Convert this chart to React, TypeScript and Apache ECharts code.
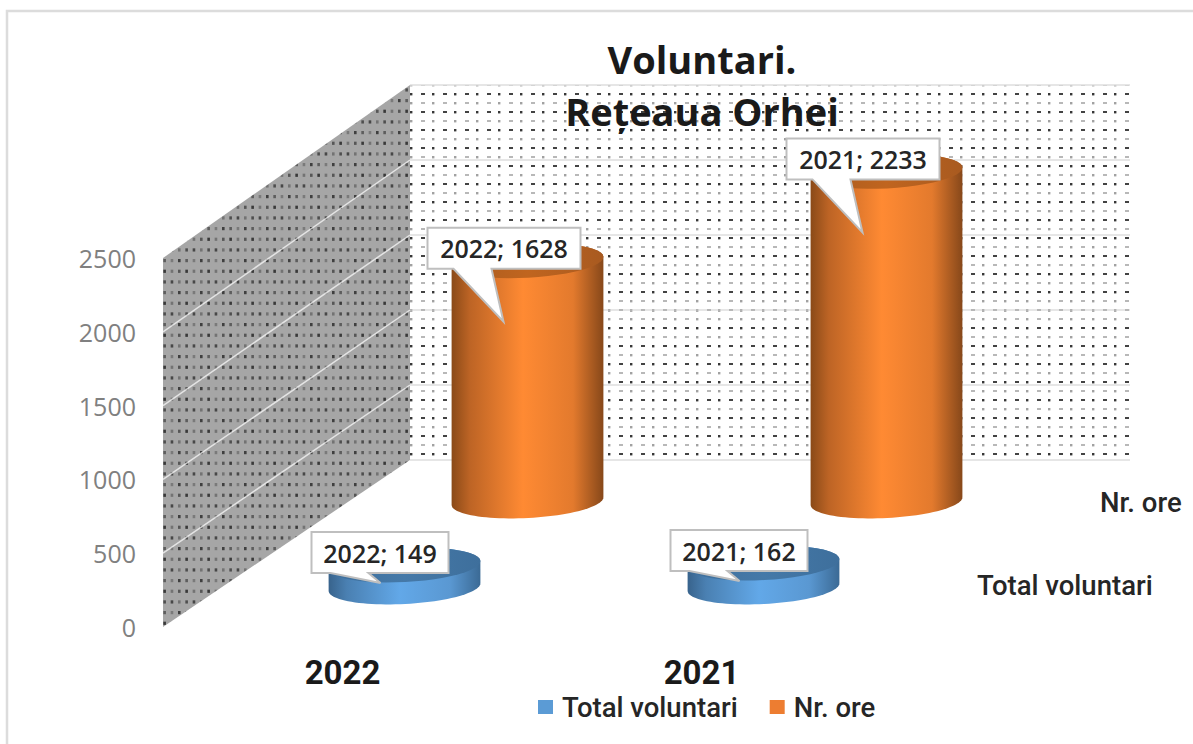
import React, { useEffect, useRef } from "react";
import * as echarts from "echarts";

const categories = ["2022", "2021"];
const totalVoluntari = [149, 162];
const nrOre = [1628, 2233];
const yTicks = [0, 500, 1000, 1500, 2000, 2500];
const FONT = "'Open Sans', sans-serif";
const FONT2 = "Roboto, sans-serif";

function makeTile(w: number, h: number, bg: string | null, draw: (c: CanvasRenderingContext2D) => void) {
  const cv = document.createElement("canvas");
  cv.width = w;
  cv.height = h;
  const c = cv.getContext("2d")!;
  if (bg) {
    c.fillStyle = bg;
    c.fillRect(0, 0, w, h);
  }
  (c as any).filter = "blur(0.6px)";
  draw(c);
  return { image: cv.toDataURL(), repeat: "repeat", imageWidth: w, imageHeight: h };
}

function backPattern() {
  return makeTile(22, 18, "#ffffff", (c) => {
    c.fillStyle = "rgba(20,20,20,0.8)";
    c.fillRect(3, 3, 4, 2);
    c.fillStyle = "rgba(20,20,20,0.85)";
    c.fillRect(14, 3, 2.4, 2.4);
    c.fillStyle = "rgba(20,20,20,0.3)";
    c.fillRect(3, 12, 4, 2);
    c.fillStyle = "rgba(20,20,20,0.4)";
    c.fillRect(14, 12, 2.4, 2.4);
  });
}

function sidePattern() {
  return makeTile(22, 32, "#a6a6a6", (c) => {
    const alphas = [0.7, 0.5, 0.3, 0.55, 0.75, 0.35, 0.35, 0.6, 0.65];
    for (let r = 0; r < 3; r++) {
      for (let k = 0; k < 3; k++) {
        c.fillStyle = `rgba(20,20,20,${alphas[r * 3 + k]})`;
        c.fillRect(2 + k * 7.33, 3 + r * 10.67, 2.6, 3.2);
      }
    }
  });
}

function ellipsePts(cx: number, cy: number, a: number, b: number, from: number, to: number) {
  const tilt = (-3 * Math.PI) / 180;
  const pts: number[][] = [];
  const steps = 48;
  for (let i = 0; i <= steps; i++) {
    const t = from + ((to - from) * i) / steps;
    const ex = a * Math.cos(t);
    const ey = b * Math.sin(t);
    pts.push([cx + ex * Math.cos(tilt) - ey * Math.sin(tilt), cy + ex * Math.sin(tilt) + ey * Math.cos(tilt)]);
  }
  return pts;
}

function hGrad(stops: [number, string][]) {
  return {
    type: "linear",
    x: 0,
    y: 0,
    x2: 1,
    y2: 0,
    colorStops: stops.map(([offset, color]) => ({ offset, color })),
  };
}

function cylinderSeries(
  name: string,
  values: number[],
  color: string,
  dx: number,
  dy: number,
  tipY: number,
  z: number,
  side: [number, string][],
  top: [number, string][]
) {
  return {
    type: "custom",
    name,
    z,
    clip: false,
    itemStyle: { color },
    encode: { x: 0, y: 1 },
    data: values.map((v, i) => [i, v]),
    renderItem: (_p: any, api: any) => {
      const i = api.value(0);
      const v = api.value(1);
      const base = api.coord([i, 0]);
      const head = api.coord([i, v]);
      const cx = base[0] + dx;
      const yb = base[1] + dy;
      const yt = head[1] + dy;
      const a = 76;
      const b = 17;
      const body = [
        ...ellipsePts(cx, yb, a, b, Math.PI, 0),
        ...ellipsePts(cx, yt, a, b, 0, -Math.PI),
      ];
      const label = `${categories[i]}; ${v}`;
      const w = String(v).length >= 4 ? 153 : 137;
      const left = cx + (w === 153 ? -100 : -93);
      const rectTop = yt - 33;
      const rectH = 41;
      const callout = [
        [left, rectTop],
        [left + w, rectTop],
        [left + w, rectTop + rectH],
        [cx - 36, rectTop + rectH],
        [cx - 24, yt + tipY],
        [cx - 74, rectTop + rectH],
        [left, rectTop + rectH],
      ];
      return {
        type: "group",
        children: [
          { type: "polygon", shape: { points: body }, style: { fill: hGrad(side) } },
          { type: "polygon", shape: { points: ellipsePts(cx, yt, a, b, 0, Math.PI * 2) }, style: { fill: hGrad(top) } },
          { type: "polygon", shape: { points: callout }, style: { fill: "#ffffff", stroke: "#bfbfbf", lineWidth: 2 } },
          {
            type: "text",
            style: {
              text: label,
              x: left + w / 2,
              y: rectTop + rectH / 2,
              align: "center",
              verticalAlign: "middle",
              fontFamily: FONT,
              fontSize: 25,
              fontWeight: 600,
              fill: "#262626",
            },
          },
        ],
      };
    },
  };
}

function App() {
  const ref = useRef<HTMLDivElement>(null);
  useEffect(() => {
    document.body.style.margin = "0";
    const chart = echarts.init(ref.current!, null, { renderer: "svg" });
    const back = backPattern();
    const sideFill = sidePattern();
    const depthX = 247;
    const backBottom = 460;
    const backScale = 375 / 369;
    const backRight = 1130;

    const wallSeries = {
      type: "custom",
      z: 1,
      clip: false,
      silent: true,
      encode: { y: 1 },
      data: yTicks.map((v) => [0, v]),
      renderItem: (p: any, api: any) => {
        const sys = p.coordSys;
        const v = api.value(1);
        const y = api.coord([0, v])[1];
        const y0 = api.coord([0, 0])[1];
        const yMax = api.coord([0, yTicks[yTicks.length - 1]])[1];
        const left = sys.x;
        const bx = left + depthX;
        const toBack = (yy: number) => backBottom - (y0 - yy) * backScale;
        const children: any[] = [];
        if (p.dataIndex === 0) {
          children.push({
            type: "polygon",
            shape: { points: [[bx, toBack(yMax)], [backRight, toBack(yMax)], [backRight, backBottom], [bx, backBottom]] },
            style: { fill: back },
          });
          children.push({
            type: "polygon",
            shape: { points: [[left, yMax], [bx, toBack(yMax)], [bx, backBottom], [left, y0]] },
            style: { fill: sideFill },
          });
        }
        children.push({
          type: "line",
          shape: { x1: bx, y1: toBack(y), x2: backRight, y2: toBack(y) },
          style: { stroke: "#dedede", lineWidth: 1.5 },
          z2: 5,
        });
        if (v > 0 && v < yTicks[yTicks.length - 1]) {
          children.push({
            type: "line",
            shape: { x1: left, y1: y, x2: bx, y2: toBack(y) },
            style: { stroke: "rgba(255,255,255,0.7)", lineWidth: 1.5 },
            z2: 5,
          });
        }
        return { type: "group", children };
      },
    };

    chart.setOption({
      animation: false,
      backgroundColor: "#ffffff",
      title: {
        text: "Voluntari.\nRețeaua Orhei",
        left: 697,
        top: 28,
        textAlign: "center",
        textStyle: { fontFamily: FONT, fontSize: 38, fontWeight: 700, color: "#1a1a1a", lineHeight: 52 },
      },
      grid: { left: 163, top: 258, width: 718, height: 369 },
      xAxis: {
        type: "category",
        data: categories,
        axisLine: { show: false },
        axisTick: { show: false },
        axisLabel: { margin: 29, fontFamily: FONT2, fontSize: 33, fontWeight: 700, color: "#1a1a1a" },
      },
      yAxis: {
        type: "value",
        min: 0,
        max: 2500,
        interval: 500,
        splitLine: { show: false },
        axisLine: { show: false },
        axisTick: { show: false },
        axisLabel: { margin: 27, fontFamily: FONT, fontSize: 25, color: "#808080", formatter: (v: number) => String(v) },
      },
      legend: {
        data: ["Total voluntari", "Nr. ore"],
        left: 538,
        top: 693,
        padding: 0,
        itemWidth: 15,
        itemHeight: 14,
        itemGap: 32,
        icon: "rect",
        textStyle: { fontFamily: FONT2, fontSize: 27.5, fontWeight: 500, color: "#262626", padding: [0, 0, 0, 4] },
      },
      graphic: [
        {
          type: "rect",
          shape: { x: 7, y: 11, width: 1190, height: 740 },
          style: { fill: "none", stroke: "#dcdcdc", lineWidth: 2.5 },
          silent: true,
        },
        {
          type: "text",
          x: 1100,
          y: 502,
          style: { text: "Nr. ore", fontFamily: FONT2, fontSize: 27.5, fontWeight: 500, fill: "#262626", verticalAlign: "middle" },
        },
        {
          type: "text",
          x: 977,
          y: 585,
          style: { text: "Total voluntari", fontFamily: FONT2, fontSize: 27.5, fontWeight: 500, fill: "#262626", verticalAlign: "middle" },
        },
      ],
      series: [
        wallSeries,
        cylinderSeries(
          "Nr. ore",
          nrOre,
          "#ed7d31",
          185,
          -126,
          61,
          2,
          [[0, "#8a4a18"], [0.12, "#bd6425"], [0.47, "#ff8a33"], [0.8, "#e37a2d"], [1, "#87481a"]],
          [[0, "#a75a1f"], [0.5, "#c0651f"], [1, "#a85a20"]]
        ),
        cylinderSeries(
          "Total voluntari",
          totalVoluntari,
          "#5b9bd5",
          62,
          -40,
          18,
          3,
          [[0, "#38638c"], [0.12, "#4a80b2"], [0.47, "#62a8e8"], [0.8, "#5a98d2"], [1, "#3b6a95"]],
          [[0, "#3e6f9c"], [0.5, "#4579a8"], [1, "#3e6f9c"]]
        ),
      ],
    });
    return () => chart.dispose();
  }, []);
  return <div ref={ref} style={{ position: "absolute", left: 0, top: 0, width: 1193, height: 744 }} />;
}

export default App;
